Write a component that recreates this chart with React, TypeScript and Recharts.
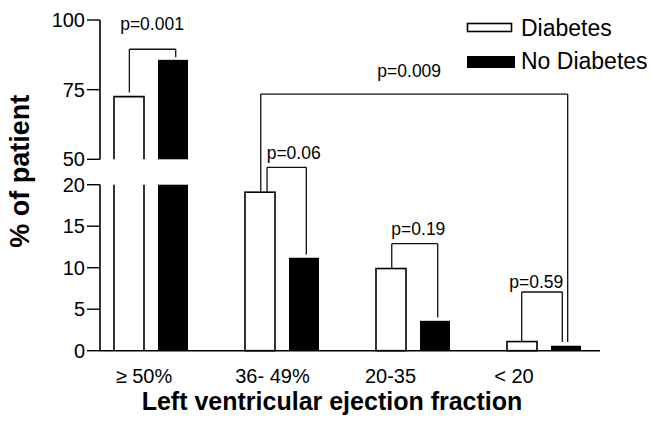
import React from 'react';
import { BarChart, Bar, XAxis, YAxis, ReferenceLine, Legend } from 'recharts';

// ---------- data ----------
const categories = ['\u2265 50%', '36- 49%', '20-35', '< 20'];
const diabetes = [72.5, 19.1, 9.9, 1.1];
const noDiabetes = [85.7, 11.2, 3.6, 0.6];
const yTickLabels = [0, 5, 10, 15, 20, 50, 75, 100];

// p-value brackets: group/offset of each leg, top level and leg bottoms (in % units)
const brackets = [
  { text: 'p=0.001', lg: 0, lo: -0.169, rg: 0, ro: 0.185, top: 89.5, lb: 74.0, rb: 86.6, dx: -0.5, lift: 25 },
  { text: 'p=0.06', lg: 1, lo: -0.118, rg: 1, ro: 0.182, top: 22.1, lb: 19.1, rb: 11.6, dx: 7, lift: 14 },
  { text: 'p=0.19', lg: 2, lo: -0.166, rg: 2, ro: 0.185, top: 12.9, lb: 9.96, rb: 4.0, dx: 3.6, lift: 15 },
  { text: 'p=0.59', lg: 3, lo: -0.174, rg: 3, ro: 0.136, top: 7.07, lb: 1.13, rb: 1.05, dx: -5.7, lift: 10 },
  { text: 'p=0.009', lg: 1, lo: -0.166, rg: 3, ro: 0.177, top: 73.4, lb: 19.1, rb: 1.05, dx: -5, lift: 23 },
];

// ---------- broken axis transform ----------
const BREAK_LOW = 20;
const BREAK_HIGH = 50;
const GAP = 3.06;
const UPPER_K = 0.3357;
const T = (v: number) => (v < BREAK_HIGH ? v : BREAK_LOW + GAP + (v - BREAK_HIGH) * UPPER_K);
const Tinv = (t: number) => (t <= BREAK_LOW + 1e-6 ? t : BREAK_HIGH + (t - BREAK_LOW - GAP) / UPPER_K);

const X_MIN = -0.3931;
const X_MAX = 3.4237;

const FONT = '"Liberation Sans", Arial, Helvetica, sans-serif';

const data = categories.map((c, i) => ({
  pos: i,
  name: c,
  dia: T(diabetes[i]),
  nodia: T(noDiabetes[i]),
}));

const xLabelDx = [-7.5, -10, -23, -30.5];

const makeShape = (key: string, filled: boolean) => (props: any) => {
  const { x, y, width, height, payload } = props;
  const tv = payload[key];
  if (!height || !tv) return <g />;
  const bottom = y + height;
  const ppu = height / tv;
  const sw = 1.6;
  if (tv <= BREAK_LOW) {
    return filled ? (
      <rect x={x} y={y} width={width} height={height} fill="#000" />
    ) : (
      <rect x={x} y={y} width={width} height={height} fill="#fff" stroke="#000" strokeWidth={sw} />
    );
  }
  const gTop = bottom - T(BREAK_HIGH) * ppu;
  const gBot = bottom - BREAK_LOW * ppu;
  if (filled) {
    return (
      <g>
        <rect x={x} y={y} width={width} height={gTop - y} fill="#000" />
        <rect x={x} y={gBot} width={width} height={bottom - gBot} fill="#000" />
      </g>
    );
  }
  return (
    <g>
      <rect x={x} y={y} width={width} height={gTop - y} fill="#fff" />
      <rect x={x} y={gBot} width={width} height={bottom - gBot} fill="#fff" />
      <path
        d={`M${x},${gTop}V${y}H${x + width}V${gTop}M${x},${bottom}V${gBot}M${x + width},${gBot}V${bottom}`}
        fill="none"
        stroke="#000"
        strokeWidth={sw}
      />
    </g>
  );
};

const XTick = (props: any) => {
  const { x, y, payload } = props;
  const i = Math.round(payload.value);
  return (
    <text x={x + xLabelDx[i]} y={y + 24.5} textAnchor="middle" fontSize={20} fontFamily={FONT} fill="#000">
      {categories[i]}
    </text>
  );
};

const LegendContent = (props: any) => {
  const payload = props.payload || [];
  return (
    <svg width={653} height={80} style={{ display: 'block' }}>
      {payload.map((p: any, i: number) => {
        const filled = i === 1;
        return (
          <g key={i}>
            {filled ? (
              <rect x={467} y={56} width={48} height={12} fill="#000" />
            ) : (
              <rect x={467.5} y={23.5} width={44} height={8} fill="#fff" stroke="#000" strokeWidth={1.6} />
            )}
            <text x={521} y={filled ? 69.2 : 36.3} fontSize={23} fontFamily={FONT} fill="#000">
              {p.value}
            </text>
          </g>
        );
      })}
    </svg>
  );
};

export default function App() {
  return (
    <div style={{ position: 'absolute', left: 0, top: 0, background: '#fff' }}>
      <BarChart
        width={653}
        height={422}
        data={data}
        margin={{ top: 20, right: 53, bottom: 0, left: 0 }}
        barSize={30}
        barGap={14}
      >
        <XAxis
          dataKey="pos"
          type="number"
          domain={[X_MIN, X_MAX]}
          ticks={[0, 1, 2, 3]}
          interval={0}
          height={71.3}
          tickLine={false}
          tickSize={6}
          tickMargin={2}
          axisLine={{ stroke: '#000', strokeWidth: 1.6 }}
          tick={<XTick />}
          label={{
            position: 'insideBottom',
            content: (p: any) => {
              const vb = p.viewBox || { x: 100, y: 350.7, width: 500, height: 71.3 };
              return (
                <text
                  x={vb.x + vb.width / 2 - 18}
                  y={vb.y + vb.height - 12}
                  textAnchor="middle"
                  fontSize={25}
                  fontWeight="bold"
                  fontFamily={FONT}
                  fill="#000"
                >
                  Left ventricular ejection fraction
                </text>
              );
            },
          }}
        />
        <YAxis
          type="number"
          domain={[0, T(100)]}
          ticks={yTickLabels.map(T)}
          interval={0}
          width={100}
          axisLine={false}
          tickLine={{ stroke: '#000', strokeWidth: 1.4 }}
          tickSize={13}
          tickMargin={2}
          tick={{ fill: '#000', fontSize: 20, fontFamily: FONT }}
          tickFormatter={(t: number) => String(Math.round(Tinv(t)))}
          label={{
            position: 'insideLeft',
            content: (p: any) => {
              const vb = p.viewBox || { x: 0, y: 20, width: 100, height: 330.7 };
              const cx = vb.x + 29;
              const cy = vb.y + vb.height / 2 - 14;
              return (
                <text
                  x={cx}
                  y={cy}
                  transform={`rotate(-90, ${cx}, ${cy})`}
                  textAnchor="middle"
                  fontSize={27}
                  fontWeight="bold"
                  fontFamily={FONT}
                  fill="#000"
                >
                  % of patient
                </text>
              );
            },
          }}
        />
        <Legend
          layout="vertical"
          align="center"
          verticalAlign="middle"
          wrapperStyle={{ position: 'absolute', left: 0, top: 0, width: 653, height: 80, margin: 0 }}
          content={<LegendContent />}
        />
        <Bar dataKey="dia" name="Diabetes" fill="#fff" stroke="#000" isAnimationActive={false} shape={makeShape('dia', false)} />
        <Bar dataKey="nodia" name="No Diabetes" fill="#000" isAnimationActive={false} shape={makeShape('nodia', true)} />

        {/* broken y-axis line */}
        <ReferenceLine
          segment={[{ x: X_MIN, y: 0 }, { x: X_MIN, y: BREAK_LOW }]}
          stroke="#000"
          strokeWidth={1.6}
          ifOverflow="visible"
        />
        <ReferenceLine
          segment={[{ x: X_MIN, y: T(BREAK_HIGH) }, { x: X_MIN, y: T(100) }]}
          stroke="#000"
          strokeWidth={1.6}
          ifOverflow="visible"
        />

        {/* significance brackets */}
        {brackets.map((b, i) => [
          <ReferenceLine
            key={`l${i}`}
            segment={[{ x: b.lg + b.lo, y: T(b.lb) }, { x: b.lg + b.lo, y: T(b.top) }]}
            stroke="#111"
            strokeWidth={1.3}
            ifOverflow="visible"
          />,
          <ReferenceLine
            key={`r${i}`}
            segment={[{ x: b.rg + b.ro, y: T(b.rb) }, { x: b.rg + b.ro, y: T(b.top) }]}
            stroke="#111"
            strokeWidth={1.3}
            ifOverflow="visible"
          />,
          <ReferenceLine
            key={`t${i}`}
            segment={[{ x: b.lg + b.lo, y: T(b.top) }, { x: b.rg + b.ro, y: T(b.top) }]}
            stroke="#111"
            strokeWidth={1.3}
            ifOverflow="visible"
            label={(p: any) => {
              const vb = p.viewBox || { x: 0, y: 0, width: 0 };
              return (
                <text
                  x={vb.x + vb.width / 2 + b.dx}
                  y={vb.y - b.lift}
                  textAnchor="middle"
                  dominantBaseline="central"
                  fontSize={17.5}
                  fontFamily={FONT}
                  fill="#000"
                >
                  {b.text}
                </text>
              );
            }}
          />,
        ])}
      </BarChart>
    </div>
  );
}
